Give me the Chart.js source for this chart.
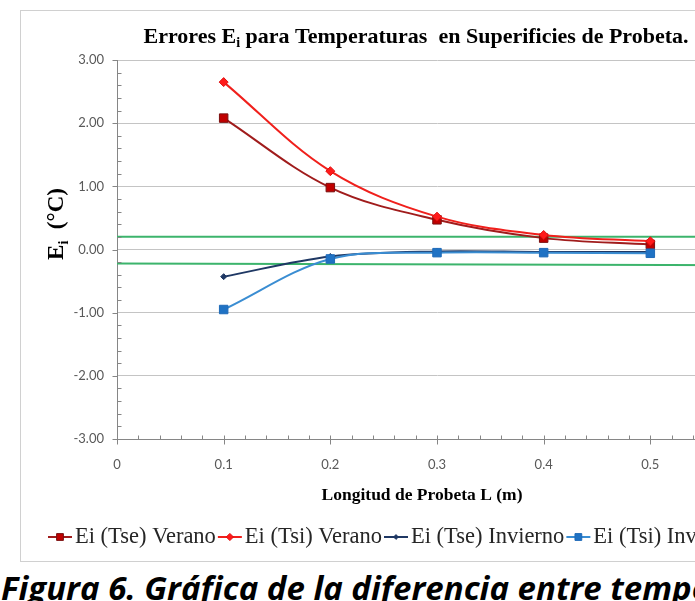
<!DOCTYPE html>
<html>
<head>
<meta charset="utf-8">
<script src="https://cdn.jsdelivr.net/npm/chart.js@4.4.1/dist/chart.umd.min.js"></script>
<style>
  html, body { margin: 0; padding: 0; background: #fff; }
  body { width: 695px; height: 601px; overflow: hidden; position: relative; }
  #chart { position: absolute; left: 20px; top: 10px; }
  #caption {
    position: absolute; left: 1px; top: 571px; white-space: nowrap;
    font-family: "Open Sans"; font-weight: bold; font-style: italic;
    font-size: 33px; line-height: 1; color: #000;
  }
</style>
</head>
<body>
<canvas id="chart" width="792" height="552"></canvas>
<div id="caption">Figura 6. Gráfica de la diferencia entre temperaturas</div>
<script>
// longitud de probeta (m)
const lengthL = [0.1, 0.2, 0.3, 0.4, 0.5];
// errores Ei (°C)
const tseVerano = [2.08, 0.98, 0.47, 0.18, 0.08];
const tsiVerano = [2.65, 1.24, 0.52, 0.23, 0.13];
const tseInvierno = [-0.43, -0.11, -0.03, -0.04, -0.04];
const tsiInvierno = [-0.95, -0.15, -0.05, -0.05, -0.06];
// lineas verdes de tolerancia
const limitL = [0, 0.6];
const upperLimit = [0.2, 0.2];
const lowerLimit = [-0.22, -0.25];

const seriesNames = ["Ei (Tse) Verano", "Ei (Tsi) Verano", "Ei (Tse) Invierno", "Ei (Tsi) Invierno"];
const titleParts = [["Errores E", false], ["i", true], [" para Temperaturas  en Superificies de Probeta.", false]];
const yTitleParts = [["E", false], ["i", true], ["  (°C)", false]];
const xTitle = "Longitud de Probeta L (m)";

const pts = (xs, ys) => xs.map((x, i) => ({ x: x, y: ys[i] }));

const styles = [
  { line: "#a01c1c", fill: "#c00000", edge: "#7a1010", shape: "rect", r: 6 },
  { line: "#f0201c", fill: "#ff1a1a", edge: "#e01010", shape: "rectRot", r: 4.5 },
  { line: "#1f3864", fill: "#1f3864", edge: "#1f3864", shape: "rectRot", r: 3 },
  { line: "#3a8dd2", fill: "#1f72c4", edge: "#1f6ab8", shape: "rect", r: 6 }
];
const seriesData = [tseVerano, tsiVerano, tseInvierno, tsiInvierno];

const datasets = seriesData.map((d, i) => ({
  label: seriesNames[i],
  data: pts(lengthL, d),
  borderColor: styles[i].line,
  borderWidth: 2,
  tension: 0.35,
  pointStyle: styles[i].shape,
  pointRadius: styles[i].r,
  pointBackgroundColor: styles[i].fill,
  pointBorderColor: styles[i].edge,
  pointBorderWidth: 1,
  order: 4 - i
}));
[upperLimit, lowerLimit].forEach(lim => {
  datasets.push({
    label: "",
    data: pts(limitL, lim),
    borderColor: "#3cb46c",
    borderWidth: 2,
    pointRadius: 0,
    tension: 0,
    order: 10
  });
});

function drawParts(ctx, parts, cx, cy, size) {
  const big = "bold " + size + "px 'Liberation Serif'";
  const small = "bold " + Math.round(size * 0.62) + "px 'Liberation Serif'";
  let total = 0;
  parts.forEach(p => { ctx.font = p[1] ? small : big; total += ctx.measureText(p[0]).width; });
  let x = cx - total / 2;
  ctx.textBaseline = "middle";
  ctx.textAlign = "left";
  parts.forEach(p => {
    ctx.font = p[1] ? small : big;
    ctx.fillText(p[0], x, p[1] ? cy + size * 0.3 : cy);
    x += ctx.measureText(p[0]).width;
  });
}

function marker(ctx, shape, x, y, r) {
  ctx.beginPath();
  if (shape === "rect") {
    const s = r * Math.SQRT1_2;
    ctx.rect(x - s, y - s, 2 * s, 2 * s);
  } else {
    ctx.moveTo(x, y - r); ctx.lineTo(x + r, y); ctx.lineTo(x, y + r); ctx.lineTo(x - r, y);
    ctx.closePath();
  }
  ctx.fill();
  ctx.stroke();
}

const decor = {
  id: "decor",
  afterDraw(chart) {
    const ctx = chart.ctx;
    const xs = chart.scales.x, ys = chart.scales.y;
    const ax = Math.round(chart.chartArea.left) + 0.5;
    const ay = Math.round(chart.chartArea.bottom) + 0.5;
    ctx.save();
    // marco
    ctx.strokeStyle = "#d0d0d0";
    ctx.lineWidth = 1;
    ctx.strokeRect(0.5, 0.5, chart.width - 1, chart.height - 1);

    // marcas de eje
    ctx.strokeStyle = "#868686";
    ctx.beginPath();
    for (let k = -15; k <= 15; k++) {
      const py = Math.round(ys.getPixelForValue(k / 5)) + 0.5;
      if (k % 5 === 0) { ctx.moveTo(ax - 5, py); ctx.lineTo(ax, py); }
      else { ctx.moveTo(ax, py); ctx.lineTo(ax + 4, py); }
    }
    for (let k = 0; k <= 30; k++) {
      const px = Math.round(xs.getPixelForValue(k / 50)) + 0.5;
      if (k % 5 === 0) { ctx.moveTo(px, ay - 4); ctx.lineTo(px, ay + 5); }
      else { ctx.moveTo(px, ay - 4); ctx.lineTo(px, ay); }
    }
    ctx.stroke();

    ctx.fillStyle = "#000";
    // titulo
    drawParts(ctx, titleParts, chart.width / 2, 27, 22);
    // titulo eje y
    ctx.save();
    ctx.translate(37, 214);
    ctx.rotate(-Math.PI / 2);
    drawParts(ctx, yTitleParts, 0, 0, 23);
    ctx.restore();
    // titulo eje x
    ctx.font = "bold 17.5px 'Liberation Serif'";
    ctx.textAlign = "center";
    ctx.textBaseline = "middle";
    ctx.fillText(xTitle, 402, 485);

    // leyenda
    ctx.font = "22.5px 'Liberation Serif'";
    const symW = 24, gapT = 3, gapI = 2;
    let x = 28;
    const ly = 527;
    seriesNames.forEach((n, i) => {
      const st = styles[i];
      ctx.strokeStyle = st.line;
      ctx.lineWidth = 2;
      ctx.beginPath();
      ctx.moveTo(x, ly); ctx.lineTo(x + symW, ly);
      ctx.stroke();
      ctx.fillStyle = st.fill;
      ctx.strokeStyle = st.edge;
      ctx.lineWidth = 1;
      marker(ctx, st.shape, x + symW / 2, ly, st.r * 0.8);
      ctx.fillStyle = "#262626";
      ctx.textAlign = "left";
      ctx.textBaseline = "middle";
      ctx.fillText(n, x + symW + gapT, ly);
      x += symW + gapT + ctx.measureText(n).width + gapI;
    });
    ctx.restore();
  }
};

new Chart(document.getElementById("chart"), {
  type: "line",
  data: { datasets: datasets },
  options: {
    responsive: false,
    animation: false,
    layout: { padding: { top: 50, right: 55, left: 0, bottom: 0 } },
    plugins: {
      legend: { display: false },
      title: { display: false },
      tooltip: { enabled: false }
    },
    scales: {
      x: {
        type: "linear",
        min: 0,
        max: 0.6,
        afterFit: s => { s.height = 123; },
        grid: { display: false, drawTicks: false },
        border: { display: true, color: "#868686", width: 1 },
        ticks: {
          stepSize: 0.1,
          padding: 18,
          maxRotation: 0,
          autoSkip: false,
          color: "#595959",
          font: { family: "Lato", size: 13 },
          callback: v => String(Number(v.toFixed(1)))
        }
      },
      y: {
        min: -3,
        max: 3,
        afterFit: s => { s.width = 97; },
        grid: {
          drawTicks: false,
          color: c => (c.tick && c.tick.value === -3) ? "rgba(0,0,0,0)" : "#c4c4c4"
        },
        border: { display: true, color: "#868686", width: 1 },
        ticks: {
          stepSize: 1,
          padding: 13,
          color: "#595959",
          font: { family: "Lato", size: 13 },
          callback: v => v.toFixed(2)
        }
      }
    }
  },
  plugins: [decor]
});
</script>
</body>
</html>
